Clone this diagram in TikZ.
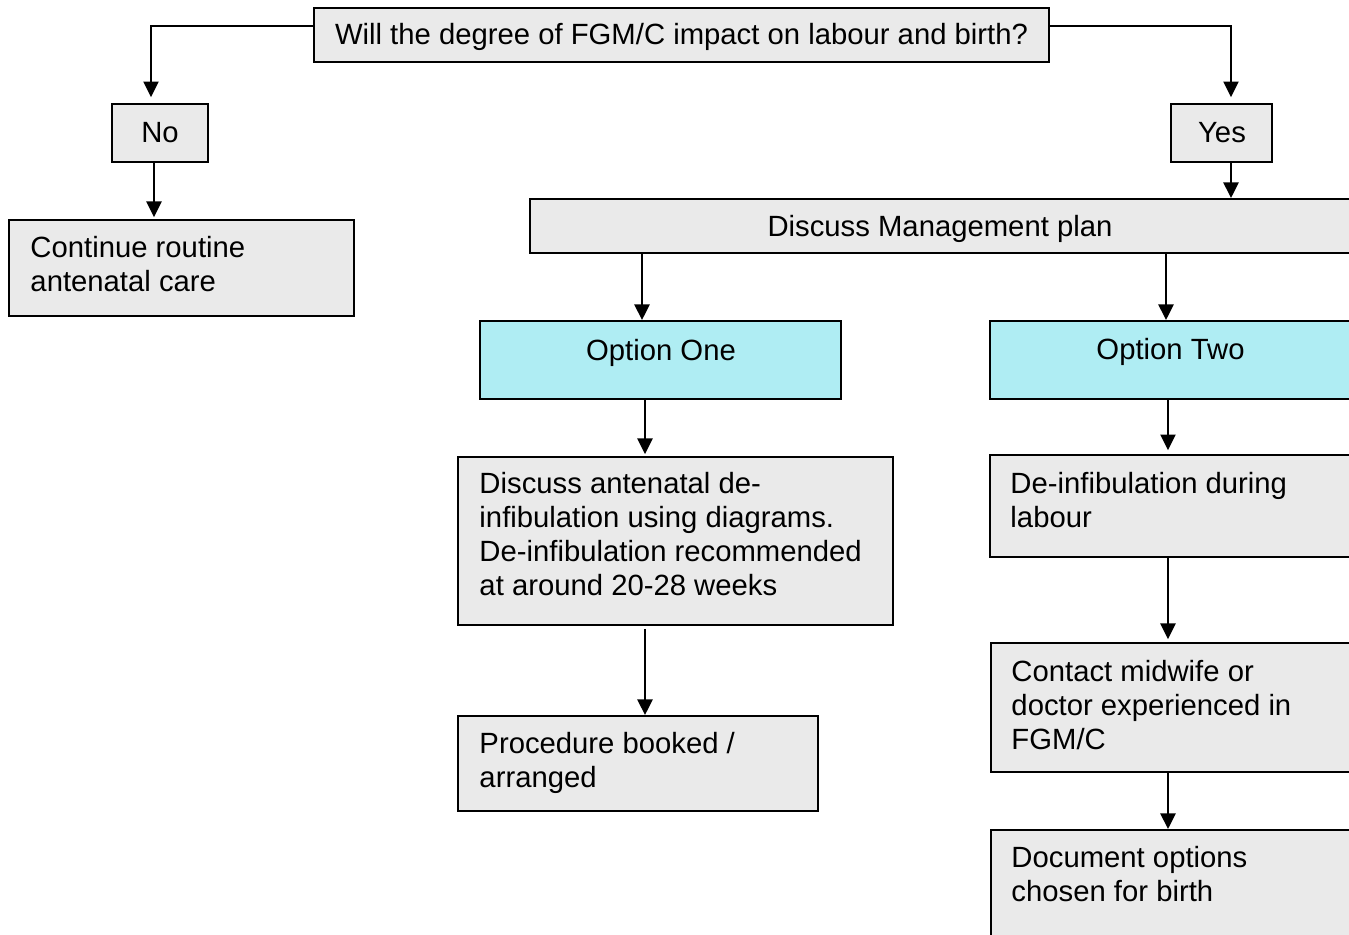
\documentclass[tikz,border=0pt]{standalone}
\usepackage{fontspec}
\setmainfont{Liberation Sans}
\usetikzlibrary{fit,calc,arrows.meta}
\definecolor{boxgray}{RGB}{234,234,234}
\definecolor{boxcyan}{RGB}{175,237,243}
\begin{document}
\begin{tikzpicture}[x=0.41pt,y=-0.41pt,
  box/.style={draw=black, line width=0.8pt, fill=boxgray, inner sep=0pt, rectangle},
  cbox/.style={box, fill=boxcyan},
  txt/.style={inner sep=0pt, font=\fontsize{12}{13.94}\selectfont, align=left},
  arr/.style={line width=0.8pt, -{Triangle[width=6.2pt,length=6.4pt]}}]
\useasboundingbox (0,0) rectangle (1349,935);
\clip (0,0) rectangle (1349,935);
% boxes
\node[box, fit={(314,8) (1049,62)}] (q) {};
\node[box, fit={(112,104) (208,162)}] (no) {};
\node[box, fit={(1171,104) (1272,162)}] (yes) {};
\node[box, fit={(9,220) (354,316)}] (cont) {};
\node[box, fit={(530,199) (1360,253)}] (dmp) {};
\node[cbox, fit={(480,321) (841,399)}] (o1) {};
\node[cbox, fit={(990,321) (1360,399)}] (o2) {};
\node[box, fit={(458,457) (893,625)}] (dant) {};
\node[box, fit={(458,716) (818,811)}] (proc) {};
\node[box, fit={(990,455) (1360,557)}] (dinf) {};
\node[box, fit={(991,643) (1360,772)}] (contact) {};
\node[box, fit={(991,830) (1360,960)}] (doc) {};
% texts (base = baseline of the last line)
\node[txt, anchor=base] (tq) at (681.5,45) {Will the degree of FGM/C impact on labour and birth?};
\node[txt, anchor=base] (tno) at (160,143) {No};
\node[txt, anchor=base] (tyes) at (1222,143) {Yes};
\node[txt, anchor=base west] (tcont) at (30,291) {Continue routine\\antenatal care};
\node[txt, anchor=base] (tdmp) at (940,236) {Discuss Management plan};
\node[txt, anchor=base] (to1) at (661,360) {Option One};
\node[txt, anchor=base] (to2) at (1170.5,359) {Option Two};
\node[txt, anchor=base west] (tdant) at (479,595) {Discuss antenatal de-\\infibulation using diagrams.\\De-infibulation recommended\\at around 20-28 weeks};
\node[txt, anchor=base west] (tproc) at (479,787) {Procedure booked /\\arranged};
\node[txt, anchor=base west] (tdinf) at (1010,527) {De-infibulation during\\labour};
\node[txt, anchor=base west] (tcontact) at (1011,749) {Contact midwife or\\doctor experienced in\\FGM/C};
\node[txt, anchor=base west] (tdoc) at (1011,901) {Document options\\chosen for birth};
% connectors
\draw[arr, shorten >=2.4pt] ($(q.north west)+(0,19)$) -| (no.north -| 151,0);
\draw[arr, shorten >=2.4pt] ($(q.north east)+(0,19)$) -| (yes.north -| 1231,0);
\draw[arr, shorten >=0.8pt] (no.south -| 154,0) -- (cont.north -| 154,0);
\draw[arr] (yes.south -| 1231,0) -- (dmp.north -| 1231,0);
\draw[arr] (dmp.south -| 642,0) -- (o1.north -| 642,0);
\draw[arr] (dmp.south -| 1166,0) -- (o2.north -| 1166,0);
\draw[arr, shorten >=0.8pt] (o1.south -| 645,0) -- (dant.north -| 645,0);
\draw[arr, shorten >=1.6pt] (o2.south -| 1168,0) -- (dinf.north -| 1168,0);
\draw[arr, shorten <=1.2pt] (dant.south -| 645,0) -- (proc.north -| 645,0);
\draw[arr, shorten >=1.2pt] (dinf.south -| 1168,0) -- (contact.north -| 1168,0);
\draw[arr] (contact.south -| 1168,0) -- (doc.north -| 1168,0);
\end{tikzpicture}
\end{document}
